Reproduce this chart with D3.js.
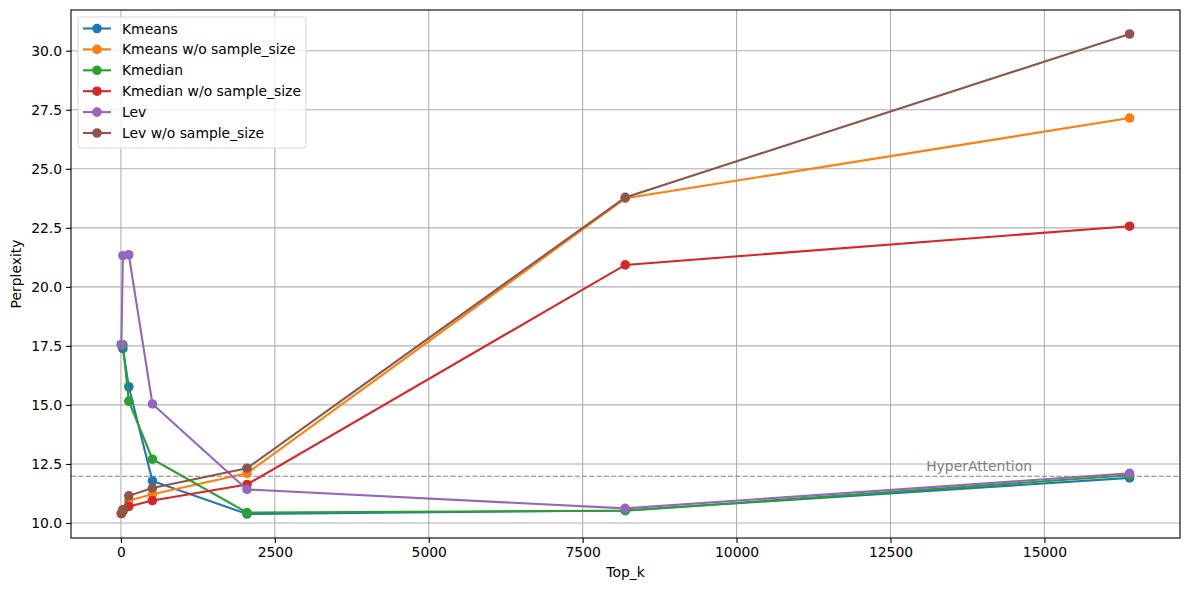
<!DOCTYPE html>
<html>
<head>
<meta charset="utf-8">
<script src="https://cdn.jsdelivr.net/npm/d3@7"></script>
<style>
body{margin:0;background:#fff;}
svg text{font-family:"DejaVu Sans",sans-serif;}
</style>
</head>
<body>
<svg id="chart" width="1189" height="590"></svg>
<script>
const topK = [8, 32, 128, 512, 2048, 8192, 16384];
const seriesNames = ["Kmeans", "Kmeans w/o sample_size", "Kmedian", "Kmedian w/o sample_size", "Lev", "Lev w/o sample_size"];
const kmeans       = [17.55, 17.38, 15.77, 11.78, 10.38, 10.53, 11.91];
const kmeansWo     = [10.40, 10.50, 10.95, 11.22, 12.10, 23.75, 27.15];
const kmedian      = [17.55, 17.55, 15.16, 12.70, 10.44, 10.52, 12.02];
const kmedianWo    = [10.40, 10.50, 10.70, 10.95, 11.63, 20.93, 22.57];
const lev          = [17.55, 21.32, 21.36, 15.04, 11.42, 10.62, 12.10];
const levWo        = [10.42, 10.56, 11.15, 11.48, 12.32, 23.79, 30.71];
const seriesColors = ["#1f77b4", "#ff7f0e", "#2ca02c", "#d62728", "#9467bd", "#8c564b"];
const xTicks = [0, 2500, 5000, 7500, 10000, 12500, 15000];
const yTicks = [10.0, 12.5, 15.0, 17.5, 20.0, 22.5, 25.0, 27.5, 30.0];
const baselineValue = 11.98;
const baselineLabel = "HyperAttention";
const baselineLabelX = 13080;

const allSeries = [kmeans, kmeansWo, kmedian, kmedianWo, lev, levWo];

const svg = d3.select("#chart");
const L = 71, R = 1180, T = 10, B = 538;
const FS = "13.9px";

const xMin = d3.min(topK), xMax = d3.max(topK);
const xPad = (xMax - xMin) * 0.05;
const x = d3.scaleLinear().domain([xMin - xPad, xMax + xPad]).range([L, R]);
const allVals = allSeries.flat();
const yMin = d3.min(allVals), yMax = d3.max(allVals);
const yPad = (yMax - yMin) * 0.05;
const y = d3.scaleLinear().domain([yMin - yPad, yMax + yPad]).range([B, T]);

// grid
const grid = svg.append("g");
xTicks.forEach(t => grid.append("line").attr("x1", x(t)).attr("x2", x(t)).attr("y1", T).attr("y2", B)
  .attr("stroke", "#b0b0b0").attr("stroke-width", 1.1));
yTicks.forEach(t => grid.append("line").attr("x1", L).attr("x2", R).attr("y1", y(t)).attr("y2", y(t))
  .attr("stroke", "#b0b0b0").attr("stroke-width", 1.1));

// axes
const xAxis = d3.axisBottom(x).tickValues(xTicks).tickFormat(d3.format("d")).tickSize(4.9).tickPadding(4);
const yAxis = d3.axisLeft(y).tickValues(yTicks).tickFormat(d3.format(".1f")).tickSize(4.9).tickPadding(4);
const gx = svg.append("g").attr("transform", `translate(0,${B})`).call(xAxis);
const gy = svg.append("g").attr("transform", `translate(${L},0)`).call(yAxis);
[gx, gy].forEach(g => {
  g.select(".domain").remove();
  g.selectAll("text").attr("font-size", FS).attr("fill", "#000").style("font-family", "DejaVu Sans");
  g.selectAll("line").attr("stroke", "#000").attr("stroke-width", 1.1);
});

// baseline
svg.append("line").attr("x1", L).attr("x2", R).attr("y1", y(baselineValue)).attr("y2", y(baselineValue))
  .attr("stroke", "#808080").attr("stroke-width", 1.1).attr("stroke-dasharray", "5.1,2.2");
svg.append("text").attr("x", x(baselineLabelX)).attr("y", y(baselineValue) - 5)
  .attr("font-size", FS).attr("fill", "#808080").text(baselineLabel);

// series
const line = d3.line().x((d, i) => x(topK[i])).y(d => y(d));
allSeries.forEach((s, k) => {
  const g = svg.append("g");
  g.append("path").attr("d", line(s)).attr("fill", "none").attr("stroke", seriesColors[k]).attr("stroke-width", 2.1);
  g.selectAll("circle").data(s).enter().append("circle")
    .attr("cx", (d, i) => x(topK[i])).attr("cy", d => y(d)).attr("r", 4.8).attr("fill", seriesColors[k]);
});

// frame
svg.append("rect").attr("x", L).attr("y", T).attr("width", R - L).attr("height", B - T)
  .attr("fill", "none").attr("stroke", "#000").attr("stroke-width", 1.1);

// axis labels
svg.append("text").attr("x", (L + R) / 2).attr("y", 577).attr("text-anchor", "middle")
  .attr("font-size", FS).text("Top_k");
svg.append("text").attr("transform", `translate(21,${(T + B) / 2}) rotate(-90)`).attr("text-anchor", "middle")
  .attr("font-size", FS).text("Perplexity");

// legend
const lg = svg.append("g").attr("transform", "translate(78,17)");
lg.append("rect").attr("width", 228).attr("height", 131).attr("rx", 3).attr("fill", "#fff").attr("fill-opacity", 0.8)
  .attr("stroke", "#d9d9d9").attr("stroke-width", 1.1);
seriesNames.forEach((n, k) => {
  const yy = 11.5 + k * 20.9;
  lg.append("line").attr("x1", 5).attr("x2", 33).attr("y1", yy).attr("y2", yy).attr("stroke", seriesColors[k]).attr("stroke-width", 2.1);
  lg.append("circle").attr("cx", 19).attr("cy", yy).attr("r", 4.8).attr("fill", seriesColors[k]);
  lg.append("text").attr("x", 44).attr("y", yy + 5).attr("font-size", FS).text(n);
});
</script>
</body>
</html>
